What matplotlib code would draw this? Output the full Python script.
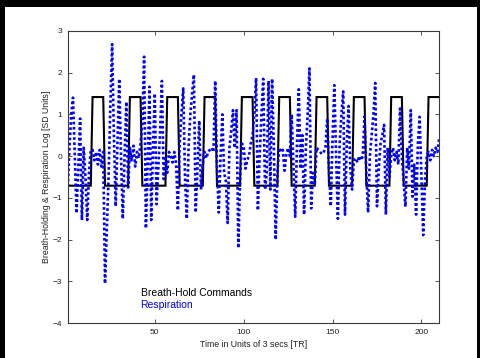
import matplotlib
matplotlib.use("Agg")
import matplotlib.pyplot as plt
from matplotlib.patches import Rectangle
import numpy as np

plt.rcParams['font.family'] = ['Liberation Sans', 'DejaVu Sans']

# respiration log (SD units), one value per TR
resp = [
    -0.85, 0.2, 1.0, 1.4, 0.0, -1.37, -0.2, 0.9, -1.53, 0.2, -0.5, -1.53, -0.4, 0.15,
    0.15, -0.1, 0.1, -0.2, 0.15, -0.25, 0.1,
    -3.05, -1.8, -0.5, 1.2, 2.68, 0.5, -1.2, 0.3, 1.85, 0.0, -1.5, 0.0, 1.3, -0.75,
    0.2, -0.1, 0.25, -0.25, 0.1, -0.05, 0.3,
    0.8, 2.38, -1.73, -0.2, 1.66, -1.53, 0.2, 1.5, -1.15, -0.3, 0.6, 1.8, -0.55, 0.0,
    -0.4, 0.1, 0.0, -0.15, 0.1, -0.2, -1.3,
    0.3, 1.0, 1.62, -0.5, -1.5, 0.2, 1.0, 1.5, 1.95, -1.35, -0.3, 0.85, -0.8, -0.2,
    0.1, -0.05, 0.1, 0.15, 0.2, 0.1, 1.8,
    -0.3, -1.35, 0.0, 1.0, -0.4, -0.6, -1.6, 0.2, 0.6, 1.1, 0.2, 1.1, -2.2, -0.5,
    0.3, 0.25, -0.3, -0.1, 0.0, 0.3, 0.5,
    1.0, 1.87, -1.3, 0.0, 1.0, 1.85, -0.8, -0.4, 1.8, -0.8, 1.85, 0.2, -2.0, -0.4,
    0.2, 0.1, 0.15, -0.35, 0.05, 0.2, 0.0,
    1.0, -0.2, -1.45, 0.3, 1.6, -0.3, 0.5, -1.4, 0.2, 1.0, 2.1, -1.25, -0.4, -0.7,
    0.2, 0.15, 0.1, 0.05, 0.1, 0.2, 0.9,
    -0.3, -1.2, 0.4, 1.7, 0.0, -1.5, 0.3, 1.0, 1.55, -1.4, 0.3, 1.2, -0.3, -0.8,
    -0.1, -0.05, -0.15, 0.0, -0.1, 0.0, 0.95,
    -0.4, -1.35, 0.0, 0.5, 1.0, 1.75, -1.2, -0.3, 0.3, 0.5, 0.75, -1.4, 0.2, -0.5,
    0.0, 0.2, -0.1, 0.1, -0.2, 1.14, 0.0,
    -0.6, -1.21, 0.2, -0.3, 1.1, -0.97, -0.2, -1.4, 0.3, 0.94, -0.5, -1.89, -0.6, 0.0,
    0.1, -0.1, 0.15, 0.0, 0.2, 0.1, 0.42,
]

# breath-hold commands: first TR of each hold, hold length, z-scored levels
hold_starts = [15, 36, 57, 78, 99, 120, 141, 162, 183, 204]
hold_len = 7
level_hold = 1.414
level_free = -0.707

n = len(resp)
t = np.arange(1, n + 1)
cmd = np.full(n, level_free)
for s in hold_starts:
    cmd[s - 1:s - 1 + hold_len] = level_hold

fig = plt.figure(figsize=(4.8, 3.58), dpi=100, facecolor='black')
# white page inside the black frame
fig.patches.append(Rectangle((5 / 480, 0), 472 / 480, 351 / 358,
                             transform=fig.transFigure, facecolor='white',
                             edgecolor='none', zorder=-10))

ax = fig.add_axes([0.141, 0.097, 0.774, 0.817])
ax.plot(t, cmd, color='black', lw=1.5, solid_joinstyle='miter')
ax.plot(t, resp, color='#0000ff', lw=1.9, linestyle=(0, (1.0, 0.95)))

ax.set_xlim(1, 210)
ax.set_ylim(-4, 3)
ax.set_xticks([50, 100, 150, 200])
ax.set_yticks(range(-4, 4))

for sp in ax.spines.values():
    sp.set_color('#3a3a3a')
    sp.set_linewidth(0.8)
ax.tick_params(direction='in', length=3, width=0.6, colors='#3a3a3a',
               labelsize=6, labelcolor='#222222', top=True, right=True, pad=4)

ax.set_xlabel('Time in Units of 3 secs [TR]', fontsize=6.3, color='#222222', labelpad=3)
ax.set_ylabel('Breath-Holding & Respiration Log [SD Units]', fontsize=6.3,
              color='#222222', labelpad=1)

ax.text(42, -3.27, 'Breath-Hold Commands', fontsize=7.5, color='black',
        va='center', ha='left')
ax.text(42, -3.56, 'Respiration', fontsize=7.5, color='#0000ff',
        va='center', ha='left')

fig.savefig('out.png', dpi=100, facecolor=fig.get_facecolor())
